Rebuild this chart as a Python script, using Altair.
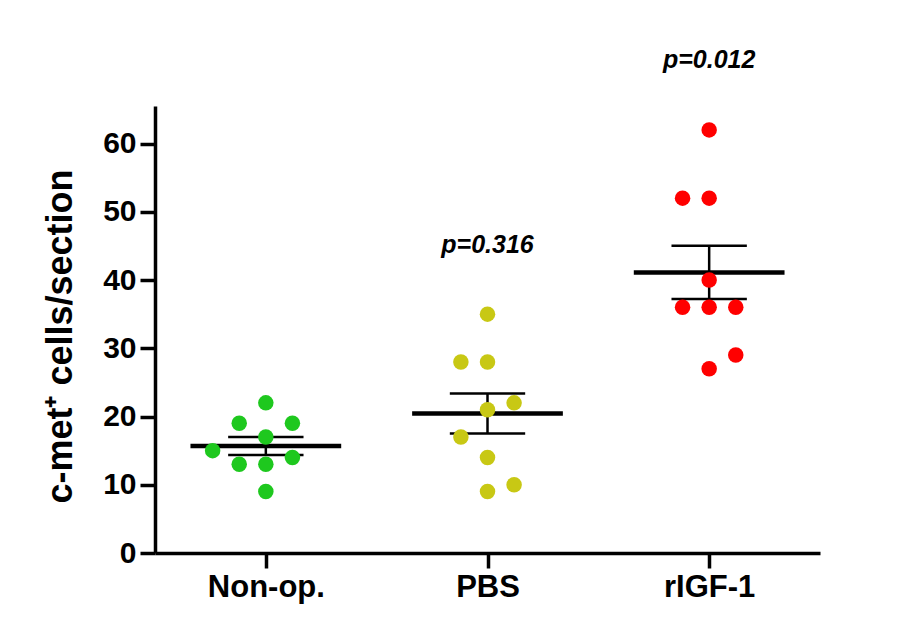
import altair as alt
import pandas as pd
import numpy as np

groups = ["Non-op.", "PBS", "rIGF-1"]
colors = ["#1ec81e", "#c8c814", "#ff0000"]
non_op = [22, 19, 19, 17, 15, 13, 13, 14, 9]
pbs = [35, 28, 28, 22, 21, 17, 14, 10, 9]
rigf1 = [62, 52, 52, 40, 36, 36, 36, 29, 27]
p_labels = ["", "p=0.316", "p=0.012"]
y_ticks = [0, 10, 20, 30, 40, 50, 60]

values = [non_op, pbs, rigf1]

# simple beeswarm placement (column slots around group centre)
SLOT = 0.12
GAP = 3.5
pref = -1
rows = []
for gi, (g, vals) in enumerate(zip(groups, values)):
    placed = []
    for v in sorted(vals):
        cands = [0]
        for k in range(1, 6):
            cands += [pref * k, -pref * k]
        for s in cands:
            if all(not (ps == s and abs(pv - v) < GAP) for ps, pv in placed):
                placed.append((s, v))
                if s != 0:
                    pref = -pref
                break
    for s, v in placed:
        rows.append({"group": g, "x": gi + s * SLOT, "value": v})
pts = pd.DataFrame(rows)

summ = []
for gi, (g, vals) in enumerate(zip(groups, values)):
    a = np.array(vals, dtype=float)
    m = a.mean()
    se = a.std(ddof=1) / np.sqrt(len(a))
    summ.append({"group": g, "gx": gi, "mean": m, "lo": m - se, "hi": m + se,
                 "mx0": gi - 0.34, "mx1": gi + 0.34, "cx0": gi - 0.17, "cx1": gi + 0.17,
                 "p": p_labels[gi], "py": a.max() + 9})
sm = pd.DataFrame(summ)

FONT = "Liberation Sans"
xs = alt.Scale(domain=[-0.5, 2.5], nice=False, zero=False)
ys = alt.Scale(domain=[0, 65.5], nice=False)
label_expr = "[" + ",".join("'%s'" % g for g in groups) + "][datum.value]"

x_axis = alt.Axis(values=[0, 1, 2], labelExpr=label_expr, title=None, grid=False,
                  domainWidth=3.5, domainColor="black", tickWidth=3.5, tickColor="black",
                  tickSize=15, labelFont=FONT, labelFontSize=31, labelFontWeight="bold",
                  labelColor="black", labelPadding=4)
y_axis = alt.Axis(values=y_ticks, title="c-met⁺ cells/section", grid=False,
                  domainWidth=3.5, domainColor="black", tickWidth=3.5, tickColor="black",
                  tickSize=15, labelFont=FONT, labelFontSize=30, labelFontWeight="bold",
                  labelColor="black", labelPadding=4,
                  titleFont=FONT, titleFontSize=36, titleFontWeight="bold", titleColor="black",
                  titleAngle=270, titleX=-84, titleY=230, titleAlign="center",
                  titleBaseline="alphabetic")


def X(f):
    return alt.X(f, scale=xs, axis=x_axis)


def Y(f):
    return alt.Y(f, scale=ys, axis=y_axis)


base_s = alt.Chart(sm)
mean_line = base_s.mark_rule(strokeWidth=4.5, color="black").encode(
    x=X("mx0:Q"), x2="mx1:Q", y=Y("mean:Q"))
cap_hi = base_s.mark_rule(strokeWidth=2.5, color="black").encode(
    x=X("cx0:Q"), x2="cx1:Q", y=Y("hi:Q"))
cap_lo = base_s.mark_rule(strokeWidth=2.5, color="black").encode(
    x=X("cx0:Q"), x2="cx1:Q", y=Y("lo:Q"))
vline = base_s.mark_rule(strokeWidth=2.5, color="black").encode(
    x=X("gx:Q"), y=Y("lo:Q"), y2="hi:Q")
dots = alt.Chart(pts).mark_circle(size=240, opacity=1).encode(
    x=X("x:Q"), y=Y("value:Q"),
    color=alt.Color("group:N", scale=alt.Scale(domain=groups, range=colors), legend=None))
ptext = base_s.mark_text(font=FONT, fontSize=25, fontWeight="bold", fontStyle="italic",
                         color="black", baseline="alphabetic", align="center").encode(
    x=X("gx:Q"), y=Y("py:Q"), text="p:N")

chart = alt.layer(mean_line, cap_hi, cap_lo, vline, dots, ptext).properties(
    width=665, height=447,
    autosize=alt.AutoSizeParams(type="none"),
    padding={"left": 147, "top": 98, "right": 93, "bottom": 77},
    background="white",
).configure_view(stroke=None)

chart.save("out.html", embed_options={"renderer": "svg", "actions": False})
